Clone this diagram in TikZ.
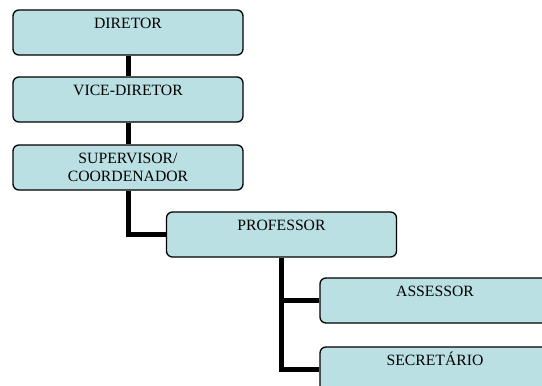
\documentclass[tikz,border=0pt]{standalone}
\usepackage{fontspec}
\setmainfont{Liberation Serif}
\definecolor{boxfill}{HTML}{BAE0E3}
\newcommand\boxlabel[1]{\parbox[c][45pt][t]{224pt}{\centering\fontsize{15.7}{18}\selectfont\rule{0pt}{18.5pt}#1\par}}
\tikzset{
  orgbox/.style={draw=black, fill=boxfill, line width=1.3pt, rounded corners=6pt,
    inner sep=0pt, minimum width=230pt, minimum height=45pt},
  link/.style={draw=black, line width=5pt, line join=miter}
}
\begin{document}
\begin{tikzpicture}[x=1pt,y=-1pt]
\useasboundingbox (0,0) rectangle (542,386);
\clip (0,0) rectangle (542,386);
\node[orgbox] (dir) at (128,32.5) {\boxlabel{DIRETOR}};
\node[orgbox] (vice) at (128,99.5) {\boxlabel{VICE-DIRETOR}};
\node[orgbox] (sup) at (128,167.5) {\boxlabel{SUPERVISOR/\\COORDENADOR}};
\node[orgbox] (prof) at (281.5,234.5) {\boxlabel{PROFESSOR}};
\node[orgbox] (ass) at (435,300.5) {\boxlabel{ASSESSOR}};
\node[orgbox] (sec) at (435,369.5) {\boxlabel{SECRETÁRIO}};
\draw[link] (dir.south) -- (vice.north);
\draw[link] (vice.south) -- (sup.north);
\draw[link] (sup.south) |- (prof.west);
\draw[link] (prof.south) |- (ass.west);
\draw[link] (prof.south) |- (sec.west);
\end{tikzpicture}
\end{document}
